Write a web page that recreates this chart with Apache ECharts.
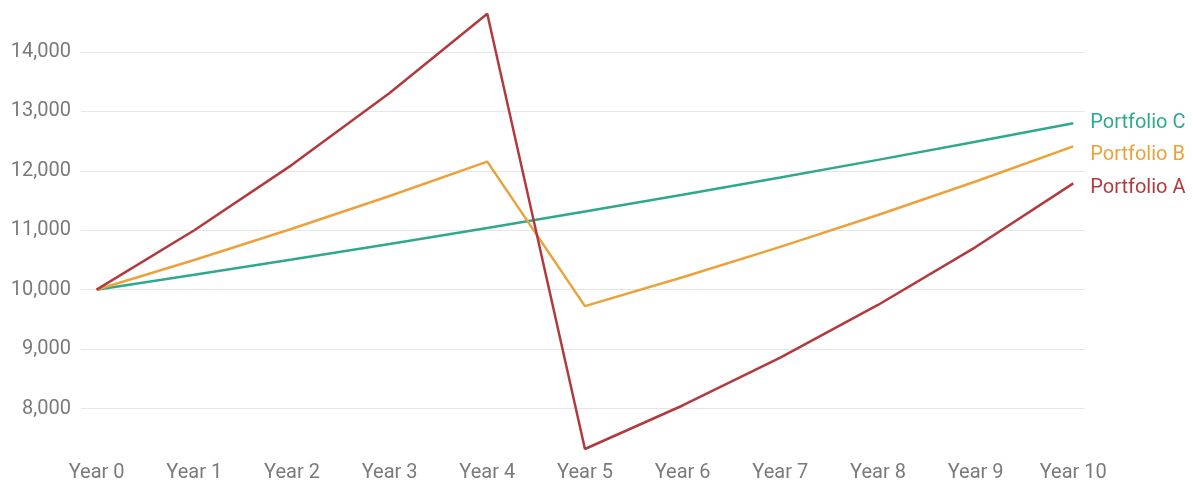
<!DOCTYPE html>
<html>
<head>
<meta charset="utf-8">
<script src="https://cdn.jsdelivr.net/npm/echarts@6/dist/echarts.min.js"></script>
<style>
html,body{margin:0;padding:0;background:#fff;}
#chart{width:1193px;height:483px;}
</style>
</head>
<body>
<div id="chart"></div>
<script>
const categories = ['Year 0','Year 1','Year 2','Year 3','Year 4','Year 5','Year 6','Year 7','Year 8','Year 9','Year 10'];
const portfolioA = [10000, 11000, 12100, 13310, 14641, 7320, 8052, 8857, 9743, 10717, 11789];
const portfolioB = [10000, 10500, 11025, 11576, 12155, 9724, 10210, 10721, 11257, 11820, 12411];
const portfolioC = [10000, 10250, 10506, 10769, 11038, 11314, 11597, 11887, 12184, 12489, 12801];
const seriesNames = ['Portfolio A', 'Portfolio B', 'Portfolio C'];

const colors = ['#b23a3e', '#eba23a', '#2fa98e'];
const labelOffsets = [[0, 5], [0, 9], [0, 0]];
const FONT = 'Roboto';

const chart = echarts.init(document.getElementById('chart'));
const allValues = portfolioA.concat(portfolioB, portfolioC);
const yMin = Math.min.apply(null, allValues);
const yMax = Math.max.apply(null, allValues);

function pairs(arr) { return arr.map((v, i) => [i, v]); }

const datasets = [portfolioA, portfolioB, portfolioC];

chart.setOption({
  animation: false,
  backgroundColor: '#ffffff',
  grid: { left: 81, right: 108, top: 13.8, bottom: 31.2, containLabel: false },
  xAxis: {
    type: 'value',
    min: -0.16,
    max: categories.length - 1 + 0.12,
    splitNumber: 10,
    axisLine: { show: false },
    axisTick: { show: false },
    splitLine: { show: false },
    axisLabel: {
      showMinLabel: false,
      showMaxLabel: false,
      color: '#7a7a7a',
      fontFamily: FONT,
      fontSize: 20,
      margin: 14,
      formatter: function (v) {
        const i = Math.round(v);
        return Math.abs(v - i) < 1e-6 && categories[i] ? categories[i] : '';
      }
    }
  },
  yAxis: {
    type: 'value',
    min: yMin,
    max: yMax,
    splitNumber: 7,
    axisLine: { show: false },
    axisTick: { show: false },
    splitLine: { show: true, showMinLine: false, showMaxLine: false, lineStyle: { color: '#e6e6e6', width: 1 } },
    axisLabel: {
      showMinLabel: false,
      showMaxLabel: false,
      color: '#7a7a7a',
      fontFamily: FONT,
      fontSize: 20,
      margin: 10,
      formatter: function (v) { return v.toLocaleString('en-US'); }
    }
  },
  series: datasets.map((d, k) => ({
    name: seriesNames[k],
    type: 'line',
    data: pairs(d),
    symbol: 'none',
    lineStyle: { color: colors[k], width: 2.5 },
    itemStyle: { color: colors[k] },
    z: k === 0 ? 4 : (k === 1 ? 3 : 2),
    endLabel: {
      show: true,
      formatter: seriesNames[k],
      color: colors[k],
      fontFamily: FONT,
      fontSize: 20,
      distance: 17,
      offset: labelOffsets[k]
    }
  }))
});
</script>
</body>
</html>
